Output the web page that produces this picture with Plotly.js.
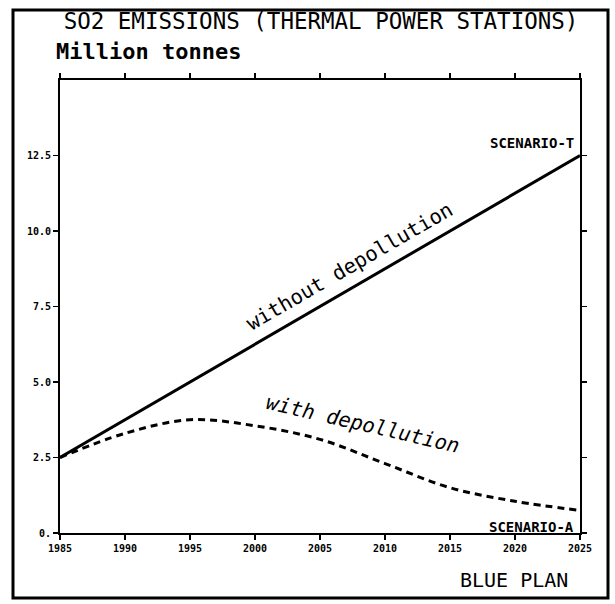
<!DOCTYPE html>
<html>
<head>
<meta charset="utf-8">
<script src="https://cdn.plot.ly/plotly-3.0.1.min.js"></script>
<style>html,body{margin:0;padding:0;background:#fff;}#chart{width:615px;height:604px;}</style>
</head>
<body>
<div id="chart"></div>
<script>
const years = [1985, 1990, 1995, 2000, 2005, 2010, 2015, 2020, 2025];
const withoutDepollution = [2.5, 3.75, 5.0, 6.25, 7.5, 8.75, 10.0, 11.25, 12.5];
const withDepollution = [2.5, 3.3, 3.75, 3.55, 3.1, 2.3, 1.5, 1.05, 0.75];
const yTickVals = [0, 2.5, 5, 7.5, 10, 12.5];
const yTickText = ['0.', '2.5', '5.0', '7.5', '10.0', '12.5'];
const xTickVals = [1985, 1990, 1995, 2000, 2005, 2010, 2015, 2020, 2025];

const mono = 'DejaVu Sans Mono, Liberation Mono, monospace';

const traces = [
  {x: years, y: withoutDepollution, mode: 'lines', line: {color: '#000', width: 3}, hoverinfo: 'skip'},
  {x: years, y: withDepollution, mode: 'lines', line: {color: '#000', width: 3, dash: '7px,5px', shape: 'spline'}, hoverinfo: 'skip'}
];

const layout = {
  width: 615, height: 604,
  margin: {l: 60, r: 35, t: 80, b: 71},
  paper_bgcolor: '#fff', plot_bgcolor: '#fff',
  showlegend: false,
  title: {text: 'SO2 EMISSIONS (THERMAL POWER STATIONS)', x: 0.522, xanchor: 'center', y: 1 - 21/604, yanchor: 'middle',
          font: {family: mono, size: 22.5, color: '#000'}},
  xaxis: {range: [1985, 2025], tickvals: xTickVals, ticktext: xTickVals.map(String),
          showline: true, linecolor: '#000', linewidth: 2, mirror: 'ticks', ticks: 'outside', ticklen: 5, tickwidth: 1.5, tickcolor: '#000',
          showgrid: false, zeroline: false, tickfont: {family: mono, size: 10, color: '#000', weight: 'bold'}},
  yaxis: {range: [0, 15], tickvals: yTickVals, ticktext: yTickText,
          showline: true, linecolor: '#000', linewidth: 2, mirror: 'ticks', ticks: 'outside', ticklen: 5, tickwidth: 1.5, tickcolor: '#000',
          showgrid: false, zeroline: false, tickfont: {family: mono, size: 10, color: '#000', weight: 'bold'}},
  shapes: [
    {type: 'rect', xref: 'paper', yref: 'paper', x0: (13-60)/520, x1: (608-60)/520, y0: (533-598)/453, y1: (533-10)/453,
     line: {color: '#000', width: 3}, fillcolor: 'rgba(0,0,0,0)'}
  ],
  annotations: [
    {text: 'Million tonnes', xref: 'paper', yref: 'paper', x: (54-60)/520, y: (533-52)/453, xanchor: 'left', yanchor: 'middle',
     showarrow: false, font: {family: mono, size: 22, color: '#000', weight: 'bold'}},
    {text: 'BLUE PLAN', xref: 'paper', yref: 'paper', x: (570-60)/520, y: (533-580)/453, xanchor: 'right', yanchor: 'middle',
     showarrow: false, font: {family: mono, size: 20, color: '#000'}},
    {text: 'without depollution', xref: 'x', yref: 'y', x: 2007.3, y: 8.85, textangle: -30, showarrow: false,
     font: {family: mono, size: 20.5, color: '#000'}},
    {text: 'with depollution', xref: 'x', yref: 'y', x: 2008.3, y: 3.6, textangle: 13, showarrow: false,
     font: {family: mono, size: 20.5, color: '#000', style: 'italic'}},
    {text: 'SCENARIO-T', xref: 'x', yref: 'y', x: 2024.7, y: 12.9, xanchor: 'right', yanchor: 'middle', showarrow: false,
     font: {family: mono, size: 14, color: '#000', weight: 'bold'}},
    {text: 'SCENARIO-A', xref: 'x', yref: 'y', x: 2024.7, y: 0.2, xanchor: 'right', yanchor: 'middle', showarrow: false,
     font: {family: mono, size: 14, color: '#000', weight: 'bold'}}
  ]
};

Plotly.newPlot('chart', traces, layout, {staticPlot: true, displayModeBar: false});
</script>
</body>
</html>
